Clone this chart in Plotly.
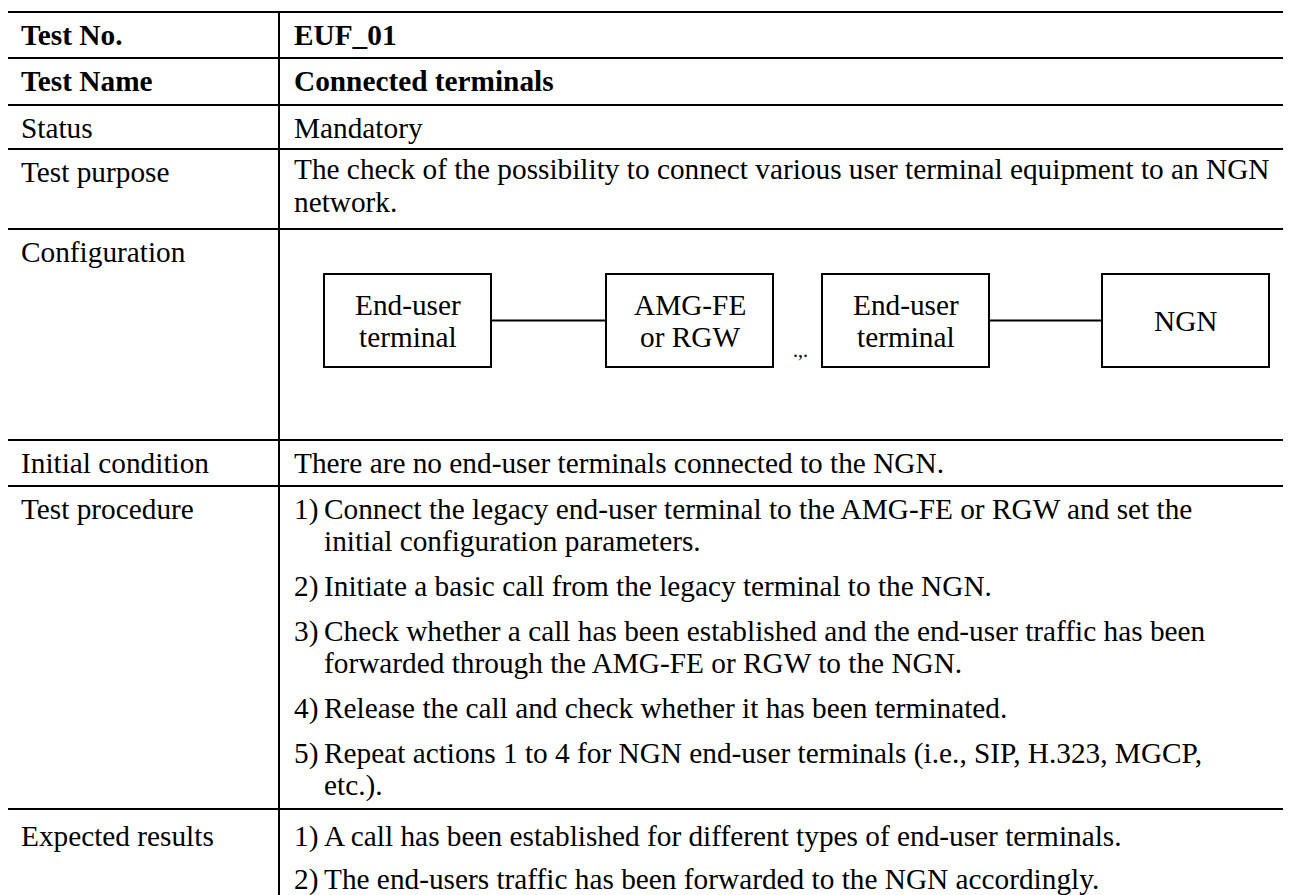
import plotly.graph_objects as go

# ---------------- content ----------------
row_labels = ["Test No.", "Test Name", "Status", "Test purpose", "Configuration",
              "Initial condition", "Test procedure", "Expected results"]
row_label_bold = [True, True, False, False, False, False, False, False]

test_no = "EUF_01"
test_name = "Connected terminals"
status = "Mandatory"
purpose_lines = ["The check of the possibility to connect various user terminal equipment to an NGN",
                 "network."]
initial_condition = "There are no end-user terminals connected to the NGN."

procedure_items = [
    ("1)", ["Connect the legacy end-user terminal to the AMG-FE or RGW and set the",
            "initial configuration parameters."]),
    ("2)", ["Initiate a basic call from the legacy terminal to the NGN."]),
    ("3)", ["Check whether a call has been established and the end-user traffic has been",
            "forwarded through the AMG-FE or RGW to the NGN."]),
    ("4)", ["Release the call and check whether it has been terminated."]),
    ("5)", ["Repeat actions 1 to 4 for NGN end-user terminals (i.e., SIP, H.323, MGCP,",
            "etc.)."]),
]
expected_items = [
    ("1)", ["A call has been established for different types of end-user terminals."]),
    ("2)", ["The end-users traffic has been forwarded to the NGN accordingly."]),
]

diagram_nodes = [["End-user", "terminal"], ["AMG-FE", "or RGW"], ["End-user", "terminal"], ["NGN"]]
diagram_links = [(0, 1), (2, 3)]
diagram_gap_mark = ".,."

# ---------------- layout constants (screen pixels) ----------------
W, H = 1291, 895
OFF = 8  # page body margin
FONT = "Liberation Serif, Times New Roman, serif"
FS = 29.3
LW = 2
x_left = 7
x_div = 279
x_right = 1310
row_edges = [12, 58, 105, 149, 229, 440, 486, 809, 960]
lab_x = 20
val_x = 293
num_x = 293
item_x = 323
first_off = 23
line_sp = 32
para_sp = 45
exp_first_off = 27
exp_para_sp = 43

node_x = [(324, 491), (606, 773), (822, 989), (1102, 1269)]
node_y = (274, 367)
gap_mark_x = 800
gap_mark_y = 350

fig = go.Figure()
shapes = []
ann = []


def text(x, y, s, bold=False, xanchor="left", size=FS):
    if bold:
        s = "<b>" + s + "</b>"
    ann.append(dict(x=x, y=y, xref="x", yref="y", text=s, showarrow=False,
                    xanchor=xanchor, yanchor="middle", borderpad=0,
                    font=dict(family=FONT, size=size, color="black")))


def line(x0, y0, x1, y1):
    shapes.append(dict(type="line", xref="x", yref="y", x0=x0, y0=y0, x1=x1, y1=y1,
                       line=dict(color="black", width=LW)))


# grid
for y in row_edges[:-1]:
    line(x_left, y, x_right, y)
line(x_left, row_edges[0], x_left, H + 20)
line(x_div, row_edges[0], x_div, H + 20)

# labels
for i, lab in enumerate(row_labels):
    off = exp_first_off if i == 7 else first_off
    text(lab_x, row_edges[i] + off, lab, bold=row_label_bold[i])

# simple values
text(val_x, row_edges[0] + first_off, test_no, bold=True)
text(val_x, row_edges[1] + first_off, test_name, bold=True)
text(val_x, row_edges[2] + first_off, status)
for k, s in enumerate(purpose_lines):
    text(val_x, row_edges[3] + first_off - 3 + k * (line_sp + 1), s)
text(val_x, row_edges[5] + first_off, initial_condition)


def items(y, lst, psp):
    for num, lines in lst:
        text(num_x, y, num)
        for k, s in enumerate(lines):
            text(item_x, y + k * line_sp, s)
        y += (len(lines) - 1) * line_sp + psp


items(row_edges[6] + first_off, procedure_items, para_sp)
items(row_edges[7] + exp_first_off, expected_items, exp_para_sp)

# diagram
yc = (node_y[0] + node_y[1]) / 2
for (x0, x1), lines in zip(node_x, diagram_nodes):
    shapes.append(dict(type="rect", xref="x", yref="y", x0=x0, x1=x1, y0=node_y[0], y1=node_y[1],
                       line=dict(color="black", width=LW), fillcolor="white"))
    n = len(lines)
    for k, s in enumerate(lines):
        text((x0 + x1) / 2, yc + (k - (n - 1) / 2) * 32, s, xanchor="center")
for a, b in diagram_links:
    line(node_x[a][1], yc, node_x[b][0], yc)
text(gap_mark_x, gap_mark_y, diagram_gap_mark, xanchor="center", size=20)

fig.update_layout(
    width=W, height=H, margin=dict(l=0, r=0, t=0, b=0),
    paper_bgcolor="white", plot_bgcolor="white",
    xaxis=dict(range=[OFF, W + OFF], visible=False, fixedrange=True),
    yaxis=dict(range=[H + OFF, OFF], visible=False, fixedrange=True),
    shapes=shapes, annotations=ann, showlegend=False,
)
fig.write_html("out.html")
